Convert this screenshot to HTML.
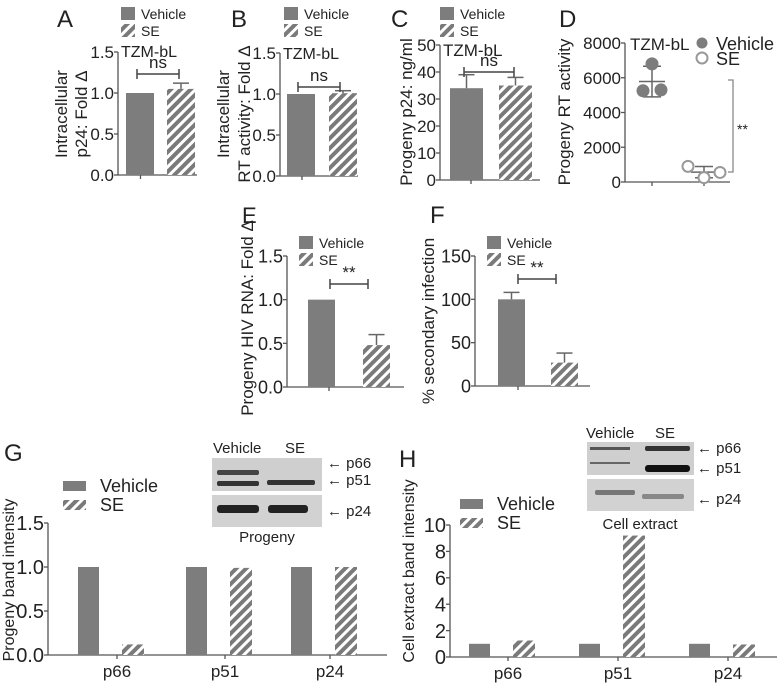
<!DOCTYPE html>
<html><head><meta charset="utf-8">
<style>
html,body{margin:0;padding:0;background:#fff;}
svg{display:block;font-family:"Liberation Sans",sans-serif;}
</style></head>
<body>
<svg id="fig" width="778" height="684" viewBox="0 0 778 684" xmlns="http://www.w3.org/2000/svg">
<defs>
<pattern id="hatch" patternUnits="userSpaceOnUse" width="7" height="7" patternTransform="rotate(45)">
<rect width="7" height="7" fill="#fff"/><rect width="4" height="7" fill="#7a7a7a"/>
</pattern>
</defs>
</svg>
<script>
// ---- data ----
var groupsAB = ['Vehicle','SE'];
var aValues = [1.0, 1.05]; var aErr = [0, 0.07];
var bValues = [1.0, 1.01]; var bErr = [0, 0.03];
var cValues = [34, 35]; var cErr = [5, 3];
var dVehicle = [5250, 6800, 5300];
var dSE = [900, 250, 550];
var eValues = [1.0, 0.48]; var eErr = [0, 0.12];
var fValues = [100, 27]; var fErr = [8, 11];
var bandCats = ['p66','p51','p24'];
var gVehicle = [1.0, 1.0, 1.0];
var gSE = [0.12, 0.99, 1.0];
var hVehicle = [1.0, 1.0, 1.0];
var hSE = [1.25, 9.2, 0.95];
var ticksA = ['0.0','0.5','1.0','1.5'];
var ticksC = ['0','10','20','30','40','50'];
var ticksD = ['0','2000','4000','6000','8000'];
var ticksF = ['0','50','100','150'];
var ticksH = ['0','2','4','6','8','10'];

var svg = document.getElementById('fig');
var NS = 'http://www.w3.org/2000/svg';
var GRAY = '#7d7d7d', AX = '#555';
function mk(tag, attrs, name, parent){
  var el = document.createElementNS(NS, tag);
  for (var k in attrs) el.setAttribute(k, attrs[k]);
  
  
  (parent || svg).appendChild(el);
  return el;
}
function txt(x,y,s,size,name,anchor,extra){
  var a = {x:x,y:y,'font-size':size,fill:'#222','text-anchor':anchor||'start'};
  for (var k in (extra||{})) a[k]=extra[k];
  var t = mk('text', a, name); t.textContent = s; return t;
}
function line(x1,y1,x2,y2,name,w,c){ return mk('line',{x1:x1,y1:y1,x2:x2,y2:y2,stroke:c||AX,'stroke-width':w||1.3},name); }
function yAxis(p){
  var n = p.ticks.length, max = +p.ticks[n-1];
  function sy(v){ return p.y0 - (v/max)*(p.y0-p.y1); }
  line(p.ax, p.y1, p.ax, p.y0, p.id+'-y-axis');
  line(p.ax, p.y0, p.axEnd, p.y0, p.id+'-x-axis');
  var fs = p.fs||17;
  for (var i=0;i<n;i++){
    var y = sy(+p.ticks[i]);
    line(p.ax-4, y, p.ax, y, p.id+'-y-tick');
    txt(p.ax-4, y+fs*0.36, p.ticks[i], fs, p.id+'-y-tick-label', 'end');
  }
  return sy;
}
function legend(x,y,name,big){
  var w = big?23:14, h = big?10:13;
  mk('rect',{x:x,y:y,width:w,height:h,fill:GRAY},name+'-legend-vehicle-swatch');
  mk('rect',{x:x,y:y+(big?19:17),width:w,height:h,fill:'url(#hatch)'},name+'-legend-se-swatch');
  var tx = x + w + (big?14:6), fs = big?18:14;
  txt(tx, y+(big?11:12), 'Vehicle', fs, name+'-legend-vehicle');
  txt(tx, y+(big?30:29), 'SE', fs, name+'-legend-se');
}
function vtitle(x,y,lines,name,fs,gap){
  for (var i=0;i<lines.length;i++){
    txt(0,0,lines[i],fs||17,name,'middle',{transform:'translate('+(x+i*(gap||21))+','+y+') rotate(-90)'});
  }
}
function barPanel(p){
  var sy = yAxis(p);
  var fills=[GRAY,'url(#hatch)'];
  for (var i=0;i<2;i++){
    var x = p.bx[i], top = sy(p.vals[i]);
    mk('rect',{x:x,y:top,width:p.bw,height:p.y0-top,fill:fills[i]},p.id+'-bar-'+groupsAB[i].toLowerCase());
    if (p.err[i]>0){
      var ey = sy(p.vals[i]+p.err[i]), cx = x+p.bw/2;
      line(cx, ey, cx, top, p.id+'-error-bar', 1.5, '#666');
      line(cx-8, ey, cx+8, ey, p.id+'-error-cap', 1.5, '#666');
    }
  }
  var mid=(p.bx[0]+p.bx[1]+p.bw)/2;
  line(mid-20,p.y0,mid-20,p.y0+4,p.id+'-x-tick');
  if (p.sig){
    var s=p.sig;
    line(s[0],s[2],s[1],s[2],p.id+'-sig-bracket',1.5,'#444');
    line(s[0],s[2]-5,s[0],s[2]+5,p.id+'-sig-bracket-end',1.5,'#444');
    line(s[1],s[2]-5,s[1],s[2]+5,p.id+'-sig-bracket-end',1.5,'#444');
    txt((s[0]+s[1])/2, s[2]-6, s[3], 17, p.id+'-significance', 'middle');
  }
  return sy;
}
// Panel A
txt(57,27,'A',24,'panel-a-label');
legend(121,7,'panel-a');
barPanel({id:'panel-a',ax:118,axEnd:197,y0:175,y1:52,ticks:ticksA,vals:aValues,err:aErr,bx:[126,167],bw:28,sig:[137,179,74,'ns']});
txt(121,57,'TZM-bL',16,'panel-a-cell-line');
vtitle(67,114,['Intracellular','p24: Fold \u0394'],'panel-a-y-title',17,20);
// Panel B
txt(231,27,'B',24,'panel-b-label');
legend(284,7,'panel-b');
barPanel({id:'panel-b',ax:280,axEnd:358,y0:176,y1:53,ticks:ticksA,vals:bValues,err:bErr,bx:[287,329],bw:28,sig:[298,340,87,'ns']});
txt(283,59,'TZM-bL',16,'panel-b-cell-line');
vtitle(229,114,['Intracellular','RT activity: Fold \u0394'],'panel-b-y-title',17,21);
// Panel C
txt(391,27,'C',24,'panel-c-label');
legend(440,7,'panel-c');
barPanel({id:'panel-c',ax:440,axEnd:540,y0:180,y1:45,ticks:ticksC,vals:cValues,err:cErr,bx:[450,499],bw:33,sig:[464,514,72,'ns']});
txt(443,56,'TZM-bL',17,'panel-c-cell-line');
vtitle(412,112,['Progeny p24: ng/ml'],'panel-c-y-title',17);
// Panel D
txt(559,27,'D',24,'panel-d-label');
(function(){
  var sy = yAxis({id:'panel-d',ax:625,axEnd:730,y0:182,y1:43,ticks:ticksD});
  line(652,182,652,186,'panel-d-x-tick'); line(704,182,704,186,'panel-d-x-tick');
  function scatter(vals,cx,name,filled){
    var xs=[cx-9,cx,cx+9], m=0, sd=0;
    for (var i=0;i<vals.length;i++) m+=vals[i]; m/=vals.length;
    for (var i=0;i<vals.length;i++) sd+=(vals[i]-m)*(vals[i]-m); sd=Math.sqrt(sd/(vals.length-1));
    line(cx-13,sy(m),cx+13,sy(m),name+'-mean',1.5,'#666');
    line(cx,sy(m+sd),cx,sy(Math.max(0,m-sd)),name+'-sd',1.5,'#666');
    line(cx-9,sy(m+sd),cx+9,sy(m+sd),name+'-sd-cap',1.5,'#666');
    line(cx-9,sy(Math.max(0,m-sd)),cx+9,sy(Math.max(0,m-sd)),name+'-sd-cap',1.5,'#666');
    for (var i=0;i<vals.length;i++){
      var xx = xs[i] + (filled?0:(i==0?-7:(i==2?7:0)));
      mk('circle',{cx:xx,cy:sy(vals[i]),r:5.5,fill:filled?GRAY:'#fff',stroke:filled?GRAY:'#999','stroke-width':2},name+'-point');
    }
  }
  scatter(dVehicle,652,'panel-d-vehicle',true);
  scatter(dSE,704,'panel-d-se',false);
  mk('circle',{cx:702,cy:43,r:5.5,fill:GRAY},'panel-d-legend-vehicle-marker');
  mk('circle',{cx:702,cy:58,r:5.5,fill:'#fff',stroke:'#999','stroke-width':2},'panel-d-legend-se-marker');
  txt(716,50,'Vehicle',18,'panel-d-legend-vehicle');
  txt(716,65,'SE',18,'panel-d-legend-se');
  txt(630,50,'TZM-bL',17,'panel-d-cell-line');
  mk('path',{d:'M728 80 H733 V172 H728',fill:'none',stroke:'#888','stroke-width':1.3},'panel-d-sig-bracket');
  txt(737,134,'**',14,'panel-d-significance');
  vtitle(570,112,['Progeny RT activity'],'panel-d-y-title',17);
})();
// Panel E
txt(242,223,'E',22,'panel-e-label');
legend(299,236,'panel-e');
barPanel({id:'panel-e',ax:287,axEnd:404,y0:387,y1:256,ticks:ticksA,vals:eValues,err:eErr,bx:[308,363],bw:27,sig:[330,368,284,'**'],fs:18});
vtitle(253,318,['Progeny HIV RNA: Fold \u0394'],'panel-e-y-title',17);
// Panel F
txt(430,223,'F',24,'panel-f-label');
legend(487,236,'panel-f');
barPanel({id:'panel-f',ax:475,axEnd:590,y0:386,y1:256,ticks:ticksF,vals:fValues,err:fErr,bx:[498,551],bw:27,sig:[518,556,279,'**'],fs:18});
vtitle(434,321,['% secondary infection'],'panel-f-y-title',17);
// Grouped band panels
function bandPanel(p){
  var sy = yAxis(p);
  for (var i=0;i<bandCats.length;i++){
    var cx = p.cx[i];
    line(cx,p.y0,cx,p.y0+4,p.id+'-x-tick');
    txt(cx,p.y0+22,bandCats[i],17,p.id+'-x-label-'+bandCats[i],'middle');
    var t1 = sy(p.veh[i]), t2 = sy(p.se[i]);
    mk('rect',{x:cx-39,y:t1,width:21,height:p.y0-t1,fill:GRAY},p.id+'-bar-vehicle-'+bandCats[i]);
    mk('rect',{x:cx+5,y:t2,width:22,height:p.y0-t2,fill:'url(#hatch)'},p.id+'-bar-se-'+bandCats[i]);
  }
}
function blot(x,y,w,h1,h2,name){
  var g = mk('g',{},name);
  mk('rect',{x:x,y:y,width:w,height:h1,fill:'#cfcfcf'},name+'-upper',g);
  mk('rect',{x:x,y:y+h1+4,width:w,height:h2,fill:'#d2d2d2'},name+'-lower',g);
  return g;
}
// Panel G
txt(4,461,'G',24,'panel-g-label');
legend(63,481,'panel-g',true);
bandPanel({id:'panel-g',ax:48,axEnd:387,y0:655,y1:523,ticks:ticksA,veh:gVehicle,se:gSE,cx:[117,225,330],fs:20});
vtitle(14,580,['Progeny band intensity'],'panel-g-y-title',16);
blot(212,458,110,33,32,'panel-g-blot');
mk('rect',{x:217,y:470,width:42,height:5,fill:'#444',rx:2},'panel-g-band-p66-vehicle');
mk('rect',{x:217,y:481,width:42,height:5,fill:'#333',rx:2},'panel-g-band-p51-vehicle');
mk('rect',{x:267,y:480,width:48,height:5,fill:'#333',rx:2},'panel-g-band-p51-se');
mk('rect',{x:217,y:505,width:42,height:8,fill:'#222',rx:3},'panel-g-band-p24-vehicle');
mk('rect',{x:268,y:505,width:40,height:8,fill:'#222',rx:3},'panel-g-band-p24-se');
txt(213,453,'Vehicle',15,'panel-g-blot-vehicle-label');
txt(285,453,'SE',15,'panel-g-blot-se-label');
txt(267,542,'Progeny',15,'panel-g-blot-caption','middle');
txt(327,468,'\u2190 p66',15,'panel-g-arrow-p66');
txt(327,485,'\u2190 p51',15,'panel-g-arrow-p51');
txt(327,516,'\u2190 p24',15,'panel-g-arrow-p24');
// Panel H
txt(399,467,'H',24,'panel-h-label');
legend(460,499,'panel-h',true);
bandPanel({id:'panel-h',ax:450,axEnd:777,y0:657,y1:525,ticks:ticksH,veh:hVehicle,se:hSE,cx:[508,618,728],fs:20});
vtitle(414,571,['Cell extract band intensity'],'panel-h-y-title',16);
blot(587,442,107,33,32,'panel-h-blot');
mk('rect',{x:590,y:447,width:40,height:3,fill:'#555'},'panel-h-band-p66-vehicle');
mk('rect',{x:645,y:446,width:45,height:5,fill:'#333',rx:2},'panel-h-band-p66-se');
mk('rect',{x:590,y:462,width:40,height:2,fill:'#666'},'panel-h-band-p51-vehicle');
mk('rect',{x:645,y:465,width:45,height:7,fill:'#111',rx:3},'panel-h-band-p51-se');
mk('rect',{x:595,y:490,width:40,height:5,fill:'#777',rx:2},'panel-h-band-p24-vehicle');
mk('rect',{x:642,y:494,width:42,height:5,fill:'#888',rx:2},'panel-h-band-p24-se');
txt(586,438,'Vehicle',15,'panel-h-blot-vehicle-label');
txt(655,438,'SE',15,'panel-h-blot-se-label');
txt(640,529,'Cell extract',15,'panel-h-blot-caption','middle');
txt(697,453,'\u2190 p66',15,'panel-h-arrow-p66');
txt(697,473,'\u2190 p51',15,'panel-h-arrow-p51');
txt(697,504,'\u2190 p24',15,'panel-h-arrow-p24');
</script>
</body></html>
